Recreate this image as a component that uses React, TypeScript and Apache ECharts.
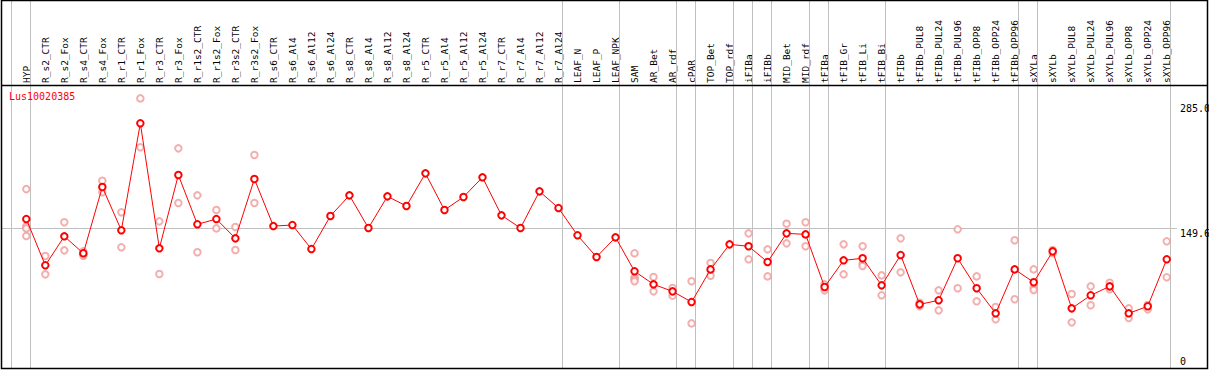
import React, { useEffect, useRef } from "react";
import * as echarts from "echarts";

const title = "Lus10020385";

const categories: string[] = [
  "HYP", "R_s2_CTR", "R_s2_Fox", "R_s4_CTR", "R_s4_Fox", "R_r1_CTR", "R_r1_Fox",
  "R_r3_CTR", "R_r3_Fox", "R_r1s2_CTR", "R_r1s2_Fox", "R_r3s2_CTR", "R_r3s2_Fox",
  "R_s6_CTR", "R_s6_Al4", "R_s6_Al12", "R_s6_Al24", "R_s8_CTR", "R_s8_Al4",
  "R_s8_Al12", "R_s8_Al24", "R_r5_CTR", "R_r5_Al4", "R_r5_Al12", "R_r5_Al24",
  "R_r7_CTR", "R_r7_Al4", "R_r7_Al12", "R_r7_Al24", "LEAF_N", "LEAF_P", "LEAF_NPK",
  "SAM", "AR_Bet", "AR_rdf", "cPAR", "TOP_Bet", "TOP_rdf", "iFIBa", "iFIBb",
  "MID_Bet", "MID_rdf", "tFIBa", "tFIB_Gr", "tFIB_Li", "tFIB_Bi", "tFIBb",
  "tFIBb_PUL8", "tFIBb_PUL24", "tFIBb_PUL96", "tFIBb_OPP8", "tFIBb_OPP24",
  "tFIBb_OPP96", "sXYLa", "sXYLb", "sXYLb_PUL8", "sXYLb_PUL24", "sXYLb_PUL96",
  "sXYLb_OPP8", "sXYLb_OPP24", "sXYLb_OPP96",
];

const means: number[] = [
  159.3, 109.2, 140.6, 122.2, 194.0, 147.1, 263.0, 127.6, 207.0, 153.6, 159.3,
  138.4, 202.7, 151.7, 152.8, 126.8, 162.6, 185.0, 149.6, 183.9, 173.4, 208.8,
  169.1, 183.2, 204.5, 163.3, 149.6, 189.3, 171.2, 141.7, 118.2, 139.5, 102.7,
  88.6, 81.0, 69.4, 104.8, 131.9, 129.8, 112.8, 143.8, 142.7, 85.7, 114.6, 116.8,
  87.5, 120.3, 66.9, 71.3, 116.8, 84.3, 57.2, 104.8, 90.8, 124.3, 62.6, 76.7,
  86.4, 57.2, 64.8, 115.7,
];

const replicates: number[][] = [
  [191.7, 151.7, 149.2, 140.9], [119.3, 99.4], [155.8, 125.4], [124.3, 119.6],
  [200.8, 188.3], [166.6, 128.7], [290.0, 237.0], [156.8, 99.8], [235.9, 176.7],
  [185.0, 123.3], [169.1, 149.2], [150.7, 125.8], [228.7, 176.7],
  [], [], [], [], [], [], [], [], [], [], [], [], [], [], [], [], [], [], [],
  [122.2, 96.2, 94.0, 91.9], [96.5, 81.0], [84.6, 76.3], [91.9, 46.3],
  [111.7, 97.9], [], [143.8, 115.7], [126.5, 97.2], [154.3, 133.0],
  [155.8, 129.8], [88.6, 82.1], [131.9, 99.4], [129.8, 111.0, 108.5],
  [98.3, 76.7], [138.4, 101.6], [68.7, 65.0], [82.1, 60.4], [148.2, 84.3],
  [97.2, 70.2], [64.0, 50.7], [136.3, 72.4], [104.8, 84.6, 82.5],
  [125.8, 122.2], [78.1, 47.4], [86.4, 65.9], [90.3, 83.2], [62.6, 52.1],
  [66.2, 61.5], [135.2, 96.2],
];

// categories after which a group separator is drawn (-1 = before the first)
const separatorsAfter: number[] = [-1, 0, 28, 31, 34, 35, 37, 38, 39, 41, 42, 45, 52, 53, 60];

const yTickLabels: number[] = [149.6, 285];
const yZeroLabel: number[] = [0];
const refLine = 149.6;

const MONO = "'DejaVu Sans Mono', monospace";

export default function App() {
  const ref = useRef<HTMLDivElement>(null);
  useEffect(() => {
    document.body.style.margin = "0";
    if (!ref.current) return;
    const chart = echarts.init(ref.current, undefined, { renderer: "svg" });

    const repData: number[][] = [];
    replicates.forEach((arr, i) => arr.forEach((v) => repData.push([i, v])));
    const meanData = means.map((v, i) => [i, v]);
    const sepData = separatorsAfter.map((i) => [i + 0.19, 0]);

    chart.setOption({
      animation: false,
      backgroundColor: "#fff",
      title: {
        text: title,
        left: 9,
        top: 91,
        padding: 0,
        textStyle: { color: "#ff0000", fontFamily: MONO, fontSize: 10, fontWeight: "normal" },
      },
      grid: { left: 1, right: 32, top: 85, bottom: 1, outerBoundsMode: "none", containLabel: false },
      xAxis: {
        type: "value",
        position: "top",
        min: -1.331,
        max: 60.54,
        axisLine: { show: false },
        axisTick: { show: false },
        splitLine: { show: false },
        axisLabel: {
          customValues: categories.map((_, i) => i),
          formatter: (v: number) => categories[Math.round(v)] ?? "",
          rotate: 90,
          margin: 2,
          color: "#000",
          fontFamily: MONO,
          fontSize: 9.5,
        },
      },
      yAxis: [
        {
          type: "value",
          position: "right",
          min: -3.1,
          max: 304.5,
          axisLine: { show: false },
          axisTick: { show: false },
          splitLine: { show: false },
          axisLabel: {
            customValues: yTickLabels,
            formatter: (v: number) => v.toFixed(1),
            verticalAlign: "top",
            margin: 3,
            color: "#000",
            fontFamily: MONO,
            fontSize: 10,
          },
        },
        {
          type: "value",
          position: "right",
          min: -3.1,
          max: 304.5,
          axisLine: { show: false },
          axisTick: { show: false },
          splitLine: { show: false },
          axisLabel: {
            customValues: yZeroLabel,
            formatter: (v: number) => String(v),
            verticalAlign: "bottom",
            margin: 3,
            color: "#000",
            fontFamily: MONO,
            fontSize: 10,
          },
        },
      ],
      series: [
        {
          type: "custom",
          data: sepData,
          clip: false,
          silent: true,
          z: 1,
          renderItem: (params: any, api: any) => {
            const x = Math.round(api.coord([api.value(0), 0])[0]) + 0.5;
            return {
              type: "line",
              shape: { x1: x, y1: 1, x2: x, y2: 369 },
              style: { stroke: "#c0c0c0", lineWidth: 1 },
            };
          },
        },
        {
          type: "scatter",
          data: repData,
          symbol: "emptyCircle",
          symbolSize: 6.5,
          z: 3,
          itemStyle: { color: "#f09a9a", borderColor: "#f09a9a", borderWidth: 1 },
        },
        {
          type: "line",
          data: meanData,
          symbol: "emptyCircle",
          symbolSize: 6.5,
          z: 4,
          lineStyle: { color: "#ff0000", width: 1 },
          itemStyle: { color: "#ff0000", borderColor: "#ff0000", borderWidth: 1.4 },
          markLine: {
            silent: true,
            symbol: "none",
            label: { show: false },
            lineStyle: { color: "#c0c0c0", type: "solid", width: 1 },
            data: [{ yAxis: refLine }],
            z: 1,
          },
        },
      ],
      graphic: [
        {
          type: "rect",
          shape: { x: 1.5, y: 0.5, width: 1206, height: 368 },
          style: { fill: "none", stroke: "#000", lineWidth: 1.5 },
          silent: true,
          z: 100,
        },
        {
          type: "line",
          shape: { x1: 1.5, y1: 85.5, x2: 1207.5, y2: 85.5 },
          style: { stroke: "#000", lineWidth: 1.5 },
          silent: true,
          z: 100,
        },
      ],
    });
    return () => chart.dispose();
  }, []);
  return (
    <div
      ref={ref}
      style={{ position: "absolute", left: 0, top: 0, width: 1209, height: 370 }}
    />
  );
}
